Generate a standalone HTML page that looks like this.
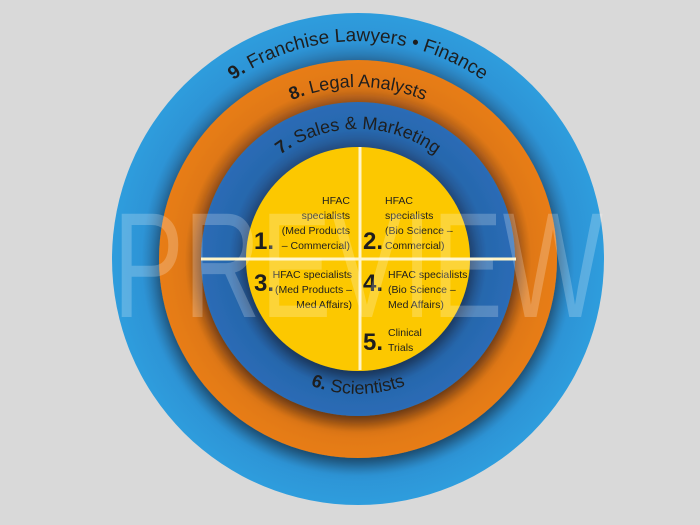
<!DOCTYPE html>
<html><head><meta charset="utf-8"><style>
html,body{margin:0;padding:0;background:#d9d9d9;}
svg{display:block;}
</style></head><body>
<svg width="700" height="525" viewBox="0 0 700 525" xmlns="http://www.w3.org/2000/svg">
<defs>
<filter id="sh" x="-30%" y="-30%" width="160%" height="160%">
<feGaussianBlur in="SourceAlpha" stdDeviation="8"/>
<feOffset dy="6" result="b"/>
<feComponentTransfer><feFuncA type="linear" slope="0.45"/></feComponentTransfer>
<feMerge><feMergeNode/><feMergeNode in="SourceGraphic"/></feMerge>
</filter>
<radialGradient id="gb" cx="358" cy="259" r="246" gradientUnits="userSpaceOnUse">
<stop offset="0.8" stop-color="#2a72a8"/><stop offset="0.88" stop-color="#2d94d6"/><stop offset="1" stop-color="#2e9ddd"/>
</radialGradient>
<radialGradient id="go" cx="358" cy="259" r="199" gradientUnits="userSpaceOnUse">
<stop offset="0.79" stop-color="#a85a1e"/><stop offset="0.87" stop-color="#e07814"/><stop offset="1" stop-color="#e87d12"/>
</radialGradient>
<radialGradient id="gd" cx="358" cy="259" r="157" gradientUnits="userSpaceOnUse">
<stop offset="0.71" stop-color="#25528a"/><stop offset="0.82" stop-color="#2767ad"/><stop offset="1" stop-color="#2a6cb6"/>
</radialGradient>
<path id="p9" d="M 140 259 A 218 218 0 0 1 576 259"/>
<path id="p8" d="M 186 259 A 172 172 0 0 1 530 259"/>
<path id="p7" d="M 228 259 A 130 130 0 0 1 488 259"/>
<path id="p6" d="M 223 259 A 135 135 0 0 0 493 259"/>
</defs>
<rect width="700" height="525" fill="#d9d9d9"/>
<circle cx="358" cy="259" r="246" fill="url(#gb)"/>
<circle cx="358" cy="259" r="199" fill="url(#go)" filter="url(#sh)"/>
<circle cx="358" cy="259" r="157" fill="url(#gd)" filter="url(#sh)"/>
<circle cx="358" cy="259" r="112" fill="#fcc800" filter="url(#sh)"/>
<rect x="358.5" y="147" width="3" height="223" fill="#fff5c8"/>
<rect x="201" y="257.5" width="315" height="3" fill="#fff5c8"/>
<g font-family="Liberation Sans, sans-serif" fill="#1e1e1e">
<text font-size="19" text-anchor="middle"><textPath href="#p9" startOffset="50%"><tspan font-weight="bold">9.</tspan> Franchise Lawyers • Finance</textPath></text>
<text font-size="18" text-anchor="middle"><textPath href="#p8" startOffset="50%"><tspan font-weight="bold">8.</tspan> Legal Analysts</textPath></text>
<text font-size="18" text-anchor="middle"><textPath href="#p7" startOffset="50%"><tspan font-weight="bold">7.</tspan> Sales &amp; Marketing</textPath></text>
<text font-size="18" text-anchor="middle"><textPath href="#p6" startOffset="50%"><tspan font-weight="bold">6.</tspan> Scientists</textPath></text>
<g font-size="10.5">
<text x="350" y="204" text-anchor="end">HFAC</text>
<text x="350" y="219" text-anchor="end">specialists</text>
<text x="350" y="234" text-anchor="end">(Med Products</text>
<text x="350" y="249" text-anchor="end">– Commercial)</text>
<text x="385" y="204">HFAC</text>
<text x="385" y="219">specialists</text>
<text x="385" y="234">(Bio Science –</text>
<text x="385" y="249">Commercial)</text>
<text x="352" y="278" text-anchor="end">HFAC specialists</text>
<text x="352" y="293" text-anchor="end">(Med Products –</text>
<text x="352" y="308" text-anchor="end">Med Affairs)</text>
<text x="388" y="278">HFAC specialists</text>
<text x="388" y="293">(Bio Science –</text>
<text x="388" y="308">Med Affairs)</text>
<text x="388" y="336">Clinical</text>
<text x="388" y="351">Trials</text>
</g>
<g font-size="24" font-weight="bold">
<text x="254" y="249">1.</text>
<text x="363" y="249">2.</text>
<text x="254" y="291">3.</text>
<text x="363" y="291">4.</text>
<text x="363" y="350">5.</text>
</g>
</g>
<text x="358" y="317" text-anchor="middle" font-family="Liberation Sans, sans-serif" font-size="150" fill="#ffffff" fill-opacity="0.22" textLength="490" lengthAdjust="spacingAndGlyphs">PREVIEW</text>
</svg>
</body></html>
